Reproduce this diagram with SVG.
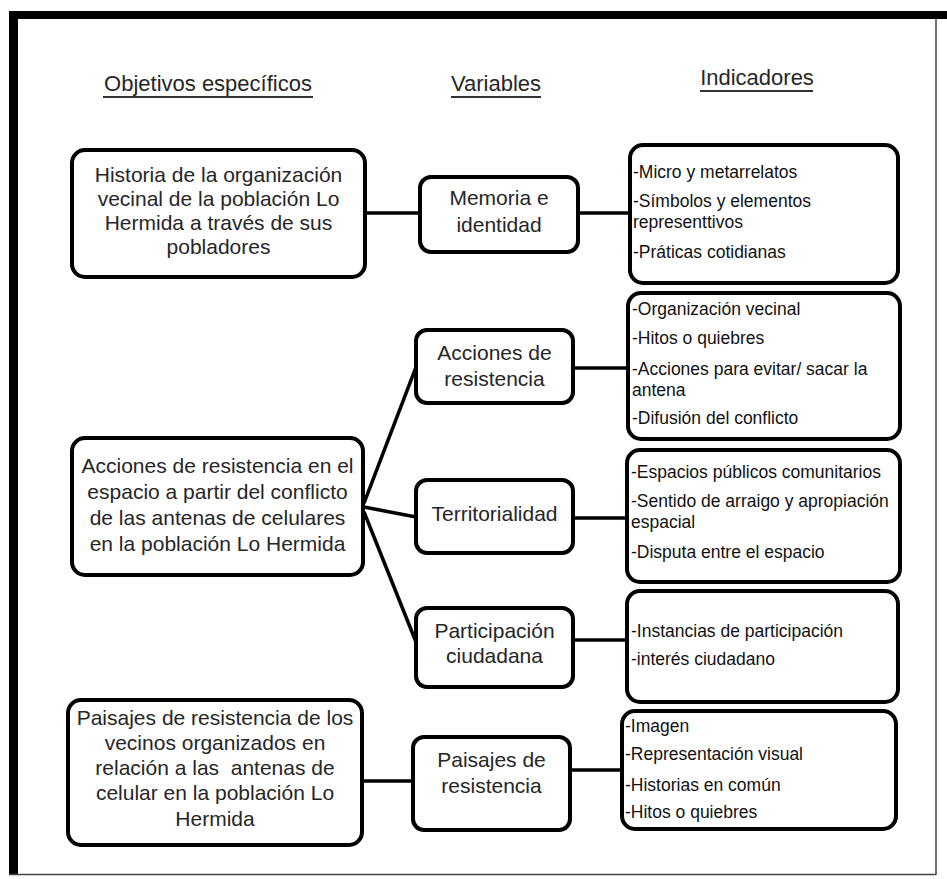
<svg xmlns="http://www.w3.org/2000/svg" width="947" height="879" viewBox="0 0 947 879">
<style>
.box{fill:#fff;stroke:#000;stroke-width:4}
.ln{stroke:#000;stroke-width:3.5;fill:none}
.t{font-family:"Liberation Sans",Arial,sans-serif;font-size:21px;fill:#262626;text-anchor:middle}
.h{font-family:"Liberation Sans",Arial,sans-serif;font-size:22px;fill:#262626;text-anchor:middle}
.i{font-family:"Liberation Sans",Arial,sans-serif;font-size:17.5px;fill:#111}
.u{stroke:#333;stroke-width:1.8}
</style>
<rect x="0" y="0" width="947" height="879" fill="#fff"/>
<g id="frame">
<rect x="9" y="11" width="938" height="8" fill="#000"/>
<rect x="9" y="11" width="9" height="864" fill="#000"/>
<line x1="936" y1="19" x2="936" y2="875" stroke="#444" stroke-width="1.5"/>
<line x1="9" y1="874.5" x2="936" y2="874.5" stroke="#444" stroke-width="1.5"/>
</g>
<g id="headers">
<text class="h" x="208" y="91">Objetivos específicos</text>
<line class="u" x1="103" y1="97" x2="313" y2="97"/>
<text class="h" x="496" y="91">Variables</text>
<line class="u" x1="451" y1="97" x2="541" y2="97"/>
<text class="h" x="757" y="85">Indicadores</text>
<line class="u" x1="700" y1="91" x2="813" y2="91"/>
</g>
<g id="connectors">
<line class="ln" x1="365" y1="213" x2="420" y2="213"/>
<line class="ln" x1="578" y1="213" x2="630" y2="213"/>
<line class="ln" x1="364" y1="503" x2="416" y2="367"/>
<line class="ln" x1="364" y1="507" x2="416" y2="517"/>
<line class="ln" x1="364" y1="512" x2="416" y2="642"/>
<line class="ln" x1="573" y1="368" x2="628" y2="368"/>
<line class="ln" x1="573" y1="518" x2="627" y2="518"/>
<line class="ln" x1="573" y1="640" x2="627" y2="640"/>
<line class="ln" x1="362" y1="781" x2="413" y2="781"/>
<line class="ln" x1="570" y1="770" x2="622" y2="770"/>
</g>
<g id="obj1">
<rect class="box" x="72" y="150" width="293" height="127" rx="13"/>
<text class="t" x="218.5" y="182">Historia de la organización</text>
<text class="t" x="218.5" y="206">vecinal de la población Lo</text>
<text class="t" x="218.5" y="230">Hermida a través de sus</text>
<text class="t" x="218.5" y="254">pobladores</text>
</g>
<g id="obj2">
<rect class="box" x="72" y="438" width="291" height="137" rx="13"/>
<text class="t" x="217.5" y="473">Acciones de resistencia en el</text>
<text class="t" x="217.5" y="499">espacio a partir del conflicto</text>
<text class="t" x="217.5" y="525">de las antenas de celulares</text>
<text class="t" x="217.5" y="551">en la población Lo Hermida</text>
</g>
<g id="obj3">
<rect class="box" x="68" y="700" width="294" height="145" rx="13"/>
<text class="t" x="215" y="725">Paisajes de resistencia de los</text>
<text class="t" x="215" y="750">vecinos organizados en</text>
<text class="t" x="215" y="775" xml:space="preserve">relación a las  antenas de</text>
<text class="t" x="215" y="800">celular en la población Lo</text>
<text class="t" x="215" y="826">Hermida</text>
</g>
<g id="var1">
<rect class="box" x="420" y="177" width="158" height="75" rx="11"/>
<text class="t" x="499" y="205">Memoria e</text>
<text class="t" x="499" y="232">identidad</text>
</g>
<g id="var2">
<rect class="box" x="416" y="330" width="157" height="73" rx="11"/>
<text class="t" x="494.5" y="360">Acciones de</text>
<text class="t" x="494.5" y="386">resistencia</text>
</g>
<g id="var3">
<rect class="box" x="416" y="480" width="157" height="73" rx="11"/>
<text class="t" x="494.5" y="521">Territorialidad</text>
</g>
<g id="var4">
<rect class="box" x="416" y="608" width="157" height="79" rx="11"/>
<text class="t" x="494.5" y="638">Participación</text>
<text class="t" x="494.5" y="663">ciudadana</text>
</g>
<g id="var5">
<rect class="box" x="413" y="737" width="157" height="93" rx="11"/>
<text class="t" x="491.5" y="767">Paisajes de</text>
<text class="t" x="491.5" y="793">resistencia</text>
</g>
<g id="ind1">
<rect class="box" x="630" y="145" width="268" height="138" rx="13"/>
<text class="i" x="633" y="178">-Micro y metarrelatos</text>
<text class="i" x="633" y="207">-Símbolos y elementos</text>
<text class="i" x="633" y="228">representtivos</text>
<text class="i" x="633" y="258">-Práticas cotidianas</text>
</g>
<g id="ind2">
<rect class="box" x="628" y="293" width="272" height="146" rx="13"/>
<text class="i" x="632" y="315">-Organización vecinal</text>
<text class="i" x="632" y="344">-Hitos o quiebres</text>
<text class="i" x="632" y="375">-Acciones para evitar/ sacar la</text>
<text class="i" x="632" y="396">antena</text>
<text class="i" x="632" y="424">-Difusión del conflicto</text>
</g>
<g id="ind3">
<rect class="box" x="627" y="450" width="273" height="132" rx="13"/>
<text class="i" x="631" y="478">-Espacios públicos comunitarios</text>
<text class="i" x="631" y="507">-Sentido de arraigo y apropiación</text>
<text class="i" x="631" y="528">espacial</text>
<text class="i" x="631" y="558">-Disputa entre el espacio</text>
</g>
<g id="ind4">
<rect class="box" x="627" y="591" width="271" height="111" rx="13"/>
<text class="i" x="631" y="637">-Instancias de participación</text>
<text class="i" x="631" y="665">-interés ciudadano</text>
</g>
<g id="ind5">
<rect class="box" x="622" y="711" width="274" height="118" rx="13"/>
<text class="i" x="625" y="732">-Imagen</text>
<text class="i" x="625" y="760">-Representación visual</text>
<text class="i" x="625" y="791">-Historias en común</text>
<text class="i" x="625" y="818">-Hitos o quiebres</text>
</g>
</svg>
